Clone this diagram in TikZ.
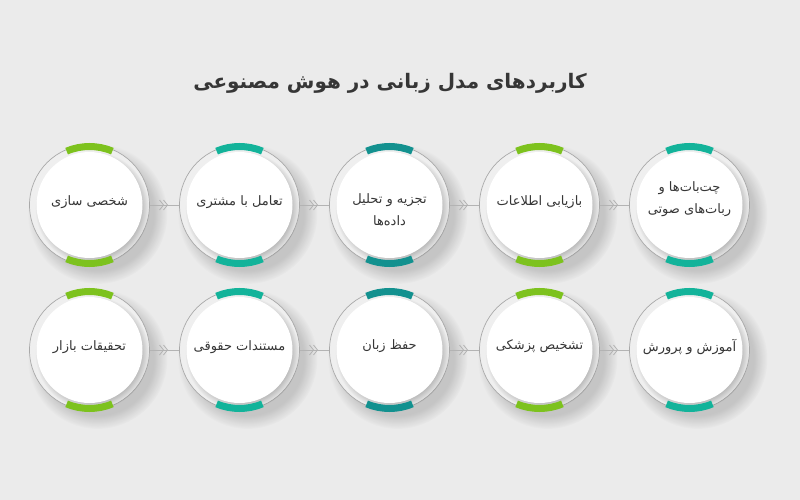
\documentclass[tikz,border=0pt]{standalone}
\usepackage{fontspec}
\TeXXeTstate=1
\newfontfamily\arabicfont[Script=Arabic]{DejaVu Sans}
\usetikzlibrary{fadings,decorations.markings}
\definecolor{bg}{HTML}{EBEBEB}
\definecolor{lgreen}{HTML}{7DC21E}
\definecolor{tealc}{HTML}{13B39A}
\definecolor{dteal}{HTML}{13918F}
\definecolor{ringgray}{HTML}{A9A9A9}
\definecolor{conngray}{HTML}{B3B3B3}
\definecolor{txt}{HTML}{363636}
\definecolor{bandgray}{HTML}{EFEFEF}
\tikzset{
  circ/.style={circle, minimum size=120pt, inner sep=0pt, draw=ringgray, line width=0.7pt, fill=bandgray},
  outshadow/.style={fill=black, opacity=0.16, path fading=circle with fuzzy edge 20 percent},
  inshadow/.style={fill=black, opacity=0.22, path fading=circle with fuzzy edge 15 percent},
  innerdisc/.style={fill=white},
  arcband/.style={line width=7pt, line cap=butt},
  lbl/.style={text=txt, font=\arabicfont\fontsize{13}{22}\selectfont, align=center, inner sep=0pt},
  ttl/.style={text=txt, font=\arabicfont\bfseries\fontsize{20}{24}\selectfont, inner sep=0pt},
  chev/.style={draw=conngray, line width=0.8pt},
  conn/.style={draw=conngray, line width=0.8pt,
    decoration={markings, mark=at position 0.5 with {\draw[chev] (-5,-5) -- (-1,0) -- (-5,5); \draw[chev] (-1,-5) -- (3,0) -- (-1,5);}},
    postaction={decorate}}
}
\begin{document}
\begin{tikzpicture}[x=1pt,y=-1pt]
\fill[bg] (0,0) rectangle (800,500);
\useasboundingbox (0,0) rectangle (800,500);
\node[ttl] (title) at (390,83) {\beginR کاربردهای مدل زبانی در هوش مصنوعی\endR};
\foreach \n/\x/\y/\c in {a1/89.5/205/lgreen, a2/239.5/205/tealc, a3/389.5/205/dteal, a4/539.5/205/lgreen, a5/689.5/205/tealc,
                         b1/89.5/350/lgreen, b2/239.5/350/tealc, b3/389.5/350/dteal, b4/539.5/350/lgreen, b5/689.5/350/tealc} {
  \fill[outshadow] (\x+8,\y+9) circle (70);
  \node[circ] (\n) at (\x,\y) {};
  \fill[inshadow] ([shift={(2.5,3)}]\n.center) circle (57);
  \fill[innerdisc] (\n.center) circle (53);
  \draw[arcband, draw=\c] ([shift={(67:58.5)}]\n.center) arc (67:113:58.5);
  \draw[arcband, draw=\c] ([shift={(247:58.5)}]\n.center) arc (247:293:58.5);
}
\draw[conn] (a1) -- (a2);
\draw[conn] (a2) -- (a3);
\draw[conn] (a3) -- (a4);
\draw[conn] (a4) -- (a5);
\draw[conn] (b1) -- (b2);
\draw[conn] (b2) -- (b3);
\draw[conn] (b3) -- (b4);
\draw[conn] (b4) -- (b5);
\node[lbl] (ta1) at ([yshift=3pt]a1.center) {\beginR شخصی سازی\endR};
\node[lbl] (ta2) at ([yshift=3pt]a2.center) {\beginR تعامل با مشتری\endR};
\node[lbl] (ta3) at ([yshift=-5pt]a3.center) {\beginR تجزیه و تحلیل\endR\\\beginR داده‌ها\endR};
\node[lbl] (ta4) at ([yshift=3pt]a4.center) {\beginR بازیابی اطلاعات\endR};
\node[lbl] (ta5) at ([yshift=6pt]a5.center) {\beginR چت‌بات‌ها و\endR\\\beginR ربات‌های صوتی\endR};
\node[lbl] (tb1) at ([yshift=3pt]b1.center) {\beginR تحقیقات بازار\endR};
\node[lbl] (tb2) at ([yshift=3pt]b2.center) {\beginR مستندات حقوقی\endR};
\node[lbl] (tb3) at ([yshift=4pt]b3.center) {\beginR حفظ زبان\endR};
\node[lbl] (tb4) at ([yshift=4pt]b4.center) {\beginR تشخیص پزشکی\endR};
\node[lbl] (tb5) at ([yshift=3pt]b5.center) {\beginR آموزش و پرورش\endR};
\end{tikzpicture}
\end{document}
